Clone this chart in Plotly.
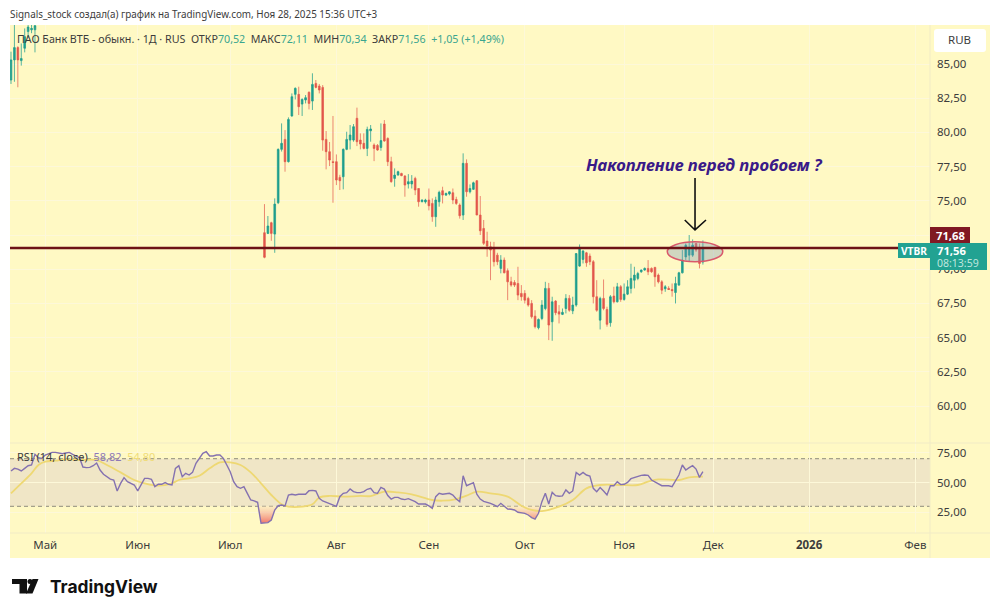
import plotly.graph_objects as go

# price bars; the middle ones are above the visible range
early_open = [83.83, 85.3, 86.2, 85.25, 86.15, 87.37, 87.5, 87.5]
early_close = [85.3, 86.2, 85.3, 85.4, 87.0, 87.7, 87.6, 87.8]
early_high = [85.9, 89.0, 86.3, 86.5, 87.6, 88.5, 88.5, 88.5]
early_low = [83.54, 83.7, 83.3, 84.88, 85.85, 86.9, 87.25, 85.85]
hidden = [None] * 66

late_open = [72.67,72.62,73.4,72.57,74.86,78.76,79.49,77.86,81.2,82.78,
    82.78,82.07,82.37,82.93,82.29,83.58,83.39,83.29,79.49,78.59,
    77.86,77.86,76.71,76.76,78.76,79.44,79.44,81.03,79.44,79.2,
    78.83,80.12,79.08,79.05,78.9,80.61,79.56,77.86,76.64,76.88,
    77.0,76.81,76.23,76.23,76.64,75.9,74.93,74.92,75.06,74.81,
    73.84,74.93,75.74,75.42,75.5,75.59,75.1,74.69,73.96,77.74,
    75.66,75.84,76.47,73.96,72.98,72.06,71.64,71.52,71.03,70.06,
    70.67,69.89,69.08,69.03,68.96,68.23,68.23,67.87,67.5,66.57,
    65.72,66.4,67.13,68.6,66.16,67.67,66.89,66.7,67.13,67.87,
    66.96,67.38,70.23,70.72,71.2,70.96,70.55,67.99,66.28,67.87,
    67.06,66.09,68.04,67.62,68.72,67.79,68.18,68.6,69.2,69.33,
    69.81,69.94,70.06,70.06,70.13,69.57,69.08,68.57,68.6,68.52,
    68.3,68.84,69.74,70.9,71.03,71.03,71.88,71.52,70.52]
late_close = [70.87,73.16,72.62,74.76,78.76,79.2,77.86,80.95,82.61,83.22,
    81.88,82.41,82.54,82.12,83.51,83.29,83.1,79.44,78.59,77.98,
    77.8,76.52,76.47,78.76,79.49,79.81,80.42,79.32,79.15,78.83,
    80.22,80.25,78.83,78.71,79.4,79.37,77.86,76.4,76.88,77.13,
    76.84,76.15,76.4,76.44,75.79,74.93,75.06,75.06,74.64,73.84,
    75.06,75.62,75.42,75.54,75.66,75.06,74.81,73.91,77.74,75.66,
    75.9,76.32,73.96,72.81,71.89,71.69,71.4,70.55,70.55,70.67,
    69.74,69.08,68.84,68.84,68.11,67.99,67.74,67.38,66.53,65.8,
    66.33,67.38,68.6,65.92,67.62,66.82,66.72,66.85,67.87,67.0,
    67.38,71.15,71.59,71.33,70.47,70.55,67.99,67.0,67.87,67.13,
    65.97,67.99,67.62,68.72,67.79,68.18,68.72,69.33,69.57,69.69,
    69.94,70.06,69.81,69.81,69.45,69.08,68.47,68.72,68.52,68.43,
    68.96,69.74,70.67,71.76,71.59,71.76,71.4,70.42,71.56]
late_high = [74.76,73.89,73.47,75.18,78.83,80.66,80.17,81.1,82.85,83.29,
    83.34,82.49,82.73,83.0,84.32,83.83,83.54,83.46,80.1,79.3,
    81.2,78.39,76.9,78.83,80.05,80.54,80.61,81.81,79.93,79.93,
    80.42,80.54,79.2,79.15,80.66,80.9,79.64,78.22,77.37,77.2,
    77.05,76.88,76.95,76.88,76.76,75.9,75.1,75.15,75.9,75.18,
    75.3,75.74,76.03,75.6,75.7,75.9,75.3,74.81,78.47,78.03,
    76.2,76.4,76.52,75.35,73.6,72.74,72.01,72.0,71.2,71.03,
    70.86,70.06,69.45,69.2,70.18,68.84,68.47,67.99,67.74,67.0,
    66.4,67.74,69.08,69.0,67.99,67.74,67.38,67.13,68.18,68.11,
    67.99,71.15,71.81,71.4,71.27,71.15,70.67,69.2,67.99,69.25,
    67.26,68.11,68.72,69.0,68.84,68.96,69.2,70.4,70.18,69.81,
    69.98,70.13,70.67,70.13,70.18,69.69,69.2,68.84,68.76,68.96,
    69.45,69.81,71.4,71.88,72.5,72.18,71.94,71.88,72.11]
late_low = [70.8,72.57,72.08,71.2,74.76,78.6,77.13,77.8,81.15,82.41,
    81.27,81.2,82.12,81.68,81.64,83.22,82.85,78.66,77.3,77.54,
    74.86,76.15,75.79,75.84,78.7,78.76,79.32,79.0,78.76,78.76,
    78.27,79.32,77.9,78.66,78.66,79.32,77.54,76.32,76.03,76.85,
    76.8,75.3,75.9,75.9,75.42,74.57,74.9,74.8,74.3,73.47,
    73.1,74.57,74.81,75.35,75.4,74.76,74.7,73.7,73.6,75.3,
    75.54,75.79,73.96,72.5,71.77,70.91,69.2,70.2,70.3,69.7,
    69.7,67.74,68.72,68.7,67.74,67.7,67.5,67.26,66.4,65.67,
    65.6,66.28,67.0,64.82,64.77,66.64,66.04,66.65,66.77,66.89,
    66.72,67.26,70.18,70.42,70.18,70.3,67.5,66.89,65.6,67.0,
    65.8,65.8,67.5,67.57,67.62,67.7,68.11,68.23,68.6,69.2,
    69.74,69.89,69.57,69.74,68.72,68.96,68.18,68.35,68.48,67.99,
    67.5,68.79,69.69,70.67,70.55,70.9,71.27,70.06,70.34]

opens = early_open + hidden + late_open
closes = early_close + hidden + late_close
highs = early_high + hidden + late_high
lows = early_low + hidden + late_low
bars = list(range(len(opens)))

rsi = [59.7,61.9,61.3,59.7,61.9,64.1,64.7,73.7,70.9,70.3,
    73.1,74.5,75.3,75.3,74.8,74.2,74.8,75.3,73.7,72.5,
    70.9,63.0,62.5,62.7,64.1,66.4,60.5,56.9,54.6,52.9,
    52.1,42.9,49.3,54.1,50.7,49.3,47.9,42.9,48.5,53.5,
    53.5,52.7,46.5,48.5,48.5,49.9,48.5,47.9,61.9,64.1,
    54.9,57.7,56.3,58.5,66.1,70.9,74.5,75.9,72.3,72.3,
    73.1,73.1,70.3,64.7,59.1,50.7,46.5,45.1,46.5,40.9,
    35.3,34.5,33.3,15.7,15.7,16.3,18.5,26.9,30.5,31.1,
    30.3,39.5,40.1,39.5,40.1,40.3,40.1,43.1,43.4,42.9,
    36.7,34.5,33.3,32.5,31.1,30.0,38.1,40.9,41.5,44.5,
    42.3,41.5,41.5,42.3,44.3,45.1,41.5,40.9,45.9,44.5,
    39.0,36.1,37.5,37.5,36.1,35.6,36.4,35.3,33.9,31.9,
    31.6,31.9,30.3,28.3,38.1,40.9,40.1,40.6,40.9,39.5,
    36.1,33.9,55.7,47.3,48.5,49.9,40.1,36.1,34.2,33.6,
    32.5,31.1,29.7,32.5,30.0,27.7,27.5,26.9,25.0,24.7,
    24.1,22.7,20.5,19.3,24.1,33.9,40.9,31.9,41.7,38.9,
    38.4,38.7,43.7,40.9,42.9,58.5,56.3,58.5,56.3,55.5,
    45.1,42.3,45.7,42.9,39.5,47.3,47.3,50.7,48.2,48.5,
    50.1,53.2,54.3,55.2,56.0,56.3,56.0,52.1,50.7,49.3,
    47.3,47.3,47.3,46.5,51.3,56.3,64.7,60.5,62.5,64.1,
    61.3,54.3,59.1]

rsi_ma_bars = [0,3,6,8,10,13,16,20,25,28,32,36,39,43,47,49,52,55,58,61,64,67,70,73,76,
    79,81,85,88,90,93,97,102,105,109,113,117,123,126,130,133,136,140,145,149,152,155,
    160,164,168,172,178,183,186,189,195,198,202]
rsi_ma = [40.9,49.3,57.7,64.7,67.5,68.3,69.5,68.9,68.9,64.7,58.5,52.1,49.3,47.3,49.3,52.1,
    53.5,55.7,61.9,66.9,66.9,64.7,58.5,49.3,39.5,31.7,29.7,29.7,31.7,37.3,38.7,38.1,38.7,
    38.6,42.3,41.7,40.1,35.3,34.7,36.1,38.9,42.3,40.9,38.1,30.5,26.9,26.0,29.7,35.3,45.1,
    47.9,47.9,47.9,50.7,52.6,52.1,54.3,54.9]

price_ticks = [60, 62.5, 65, 67.5, 70, 72.5, 75, 77.5, 80, 82.5, 85]
rsi_ticks = [25, 50, 75]
month_bars = [10, 37, 64, 95, 122, 150, 179, 205, 233, 264]
month_labels = ["Май", "Июн", "Июл", "Авг", "Сен", "Окт", "Ноя", "Дек", "<b>2026</b>", "Фев"]
level = 71.55

BG = "#fff9c4"
GRID = "#fdf8d9"
SEP = "#f1ebc6"
TEAL = "#1f9e8d"
RED = "#e2574c"
TEAL_LINE = "rgba(31,158,141,0.75)"
RED_LINE = "rgba(226,87,76,0.7)"
TEXT = "#3c3c3c"
FONT = "Noto Sans"

# plot area is 10..930 across and 25..533 down, helpers turn pixels into paper coords
def px(v):
    return (v - 10) / 920

def py(v):
    return (533 - v) / 508

def rect(x0, y0, x1, y1, color, layer="above"):
    return dict(type="rect", xref="paper", yref="paper", x0=px(x0), x1=px(x1), y0=py(y0), y1=py(y1),
                fillcolor=color, line_width=0, layer=layer)

def label(x, y, text, size=12, color=TEXT, anchor="left", **kw):
    return dict(xref="paper", yref="paper", x=px(x), y=py(y), text=text, showarrow=False, xanchor=anchor,
                yanchor="middle", font=dict(size=size, color=color, family=kw.pop("family", FONT)), **kw)

fig = go.Figure()
fig.add_trace(go.Candlestick(x=bars, open=opens, high=highs, low=lows, close=closes, yaxis="y",
                             increasing=dict(line=dict(color=TEAL_LINE, width=1), fillcolor=TEAL),
                             decreasing=dict(line=dict(color=RED_LINE, width=1), fillcolor=RED),
                             whiskerwidth=0))
# oversold shading between the RSI and the 30 line
fig.add_trace(go.Scatter(x=bars, y=[30] * len(bars), yaxis="y2", mode="lines", line=dict(width=0), hoverinfo="skip"))
fig.add_trace(go.Scatter(x=bars, y=[min(v, 30) for v in rsi], yaxis="y2", mode="lines", line=dict(width=0),
                         fill="tonexty",
                         fillgradient=dict(type="vertical", colorscale=[[0, "rgba(240,110,100,0.95)"], [1, "rgba(250,225,190,0.5)"]]),
                         hoverinfo="skip"))
fig.add_trace(go.Scatter(x=rsi_ma_bars, y=rsi_ma, yaxis="y2", mode="lines",
                         line=dict(color="#eed873", width=1.8, shape="spline")))
fig.add_trace(go.Scatter(x=bars, y=rsi, yaxis="y2", mode="lines", line=dict(color="#8471b0", width=1.4)))

shapes = [rect(10, 25, 990, 558, BG, "below")]
# RSI band and its levels
shapes.append(dict(type="rect", xref="paper", yref="y2", x0=0, x1=1, y0=30, y1=70, fillcolor="#f0e6c6", line_width=0, layer="between"))
for lv in [30, 50, 70]:
    shapes.append(dict(type="line", xref="paper", yref="y2", x0=0, x1=1, y0=lv, y1=lv, layer="between",
                       line=dict(color="#8f8c7c" if lv != 50 else "#b5b09c", width=1, dash="4px,3px")))
# pane separators
shapes.append(dict(type="line", xref="paper", yref="paper", x0=1, x1=1, y0=py(558), y1=1, line=dict(color=SEP, width=1)))
shapes.append(dict(type="line", xref="paper", yref="paper", x0=0, x1=px(990), y0=py(443), y1=py(443), line=dict(color=SEP, width=1)))
shapes.append(dict(type="line", xref="paper", yref="paper", x0=0, x1=px(990), y0=0, y1=0, line=dict(color=SEP, width=1)))
# level, oval and arrow drawn on the chart
shapes.append(dict(type="circle", xref="x", yref="y", x0=191.6, x1=207.8, y0=70.55, y1=72.0,
                   fillcolor="rgba(120,150,185,0.35)", line=dict(color="#d9596b", width=1.5)))
shapes.append(dict(type="line", xref="paper", yref="y", x0=0, x1=px(898), y0=level, y1=level, line=dict(color="#6d1216", width=2.4)))
shapes.append(dict(type="path", xref="x", yref="y", path="M 199.7 76.67 L 199.7 72.87 M 196.7 73.6 L 199.7 72.87 L 202.9 73.6",
                   line=dict(color="#111111", width=1.6)))
# price labels on the axis
shapes.append(rect(930, 227, 970, 243, "#801923"))
shapes.append(rect(898, 243, 930, 258, "#22a292"))
shapes.append(rect(930, 243, 987, 270, "#22a292"))
# RUB button
shapes.append(dict(type="path", xref="paper", yref="paper", fillcolor="white", line_width=0,
                   path=f"M {px(937)} {py(29)} L {px(983)} {py(29)} Q {px(986)} {py(29)} {px(986)} {py(32)} "
                        f"L {px(986)} {py(49)} Q {px(986)} {py(52)} {px(983)} {py(52)} L {px(937)} {py(52)} "
                        f"Q {px(934)} {py(52)} {px(934)} {py(49)} L {px(934)} {py(32)} Q {px(934)} {py(29)} {px(937)} {py(29)} Z"))
# TradingView logo
shapes.append(dict(type="path", xref="paper", yref="paper", fillcolor="#111111", line_width=0,
                   path=f"M {px(12)} {py(579)} L {px(27)} {py(579)} L {px(27)} {py(593.5)} L {px(19.5)} {py(593.5)} L {px(19.5)} {py(584)} L {px(12)} {py(584)} Z"))
shapes.append(dict(type="path", xref="paper", yref="paper", fillcolor="#111111", line_width=0,
                   path=f"M {px(32.5)} {py(579)} L {px(38.5)} {py(579)} L {px(32.5)} {py(593.5)} L {px(26)} {py(593.5)} Z"))
shapes.append(dict(type="circle", xref="paper", yref="paper", fillcolor="#111111", line_width=0,
                   x0=px(27.5), x1=px(32.5), y0=py(584), y1=py(579)))

green = "<span style='color:#3aa58f'>"
legend_text = (f"ПАО Банк ВТБ - обыкн. · 1Д · RUS  ОТКР{green}70,52</span>  МАКС{green}72,11</span>  "
               f"МИН{green}70,34</span>  ЗАКР{green}71,56</span>  {green}+1,05 (+1,49%)</span>")
annotations = [
    label(8, 14, "Signals_stock создал(а) график на TradingView.com, Ноя 28, 2025 15:36 UTC+3", 9.9),
    label(15, 39, legend_text, 10.7),
    label(15, 456, "RSI (14, close)  <span style='color:#8d78b8'>58,82</span>  <span style='color:#efdc78'>54,80</span>", 11),
    label(584, 165, "<b><i>Накопление перед пробоем ?</i></b>", 16.8, "#3a1a88"),
    label(960, 40, "RUB", 11.5, anchor="center"),
    label(950, 235, "<b>71,68</b>", 11.2, "white", "center"),
    label(914, 250.5, "<b>VTBR</b>", 10.2, "white", "center"),
    label(935, 250, "<b>71,56</b>", 11.2, "white"),
    label(935, 263, "08:13:59", 10.5, "#bfe6de"),
    label(48, 586, "<b>TradingView</b>", 17.4, "#111111", family="Inter"),
]

fig.update_layout(
    width=1000, height=614, autosize=False, showlegend=False,
    margin=dict(l=10, r=70, t=25, b=81),
    paper_bgcolor="white", plot_bgcolor="rgba(0,0,0,0)",
    font=dict(family=FONT, size=12, color=TEXT),
    separators=", ",
    shapes=shapes, annotations=annotations,
    xaxis=dict(domain=[0, 1], anchor="y2", range=[-0.29, 268.3], rangeslider=dict(visible=False),
               tickvals=month_bars, ticktext=month_labels, tickfont=dict(size=11.5), ticklabelstandoff=3,
               showgrid=True, gridcolor=GRID, gridwidth=1, zeroline=False, showline=False, ticks=""),
    yaxis=dict(domain=[90 / 508, 1], side="right", range=[57.3, 87.85], tickvals=price_ticks, tickformat=".2f",
               tickfont=dict(size=11.5), showgrid=True, gridcolor=GRID, zeroline=False, ticks="", ticklabelstandoff=6),
    yaxis2=dict(domain=[0, 90 / 508], side="right", range=[7.56, 83.2], tickvals=rsi_ticks, tickformat=".2f",
                tickfont=dict(size=11.5), showgrid=True, gridcolor=GRID, zeroline=False, ticks="", ticklabelstandoff=6),
)

# the page body has a default margin, drop it so the chart sits at the window corner
fig.write_html("out.html", config=dict(displayModeBar=False), post_script="document.body.style.margin='0';")
